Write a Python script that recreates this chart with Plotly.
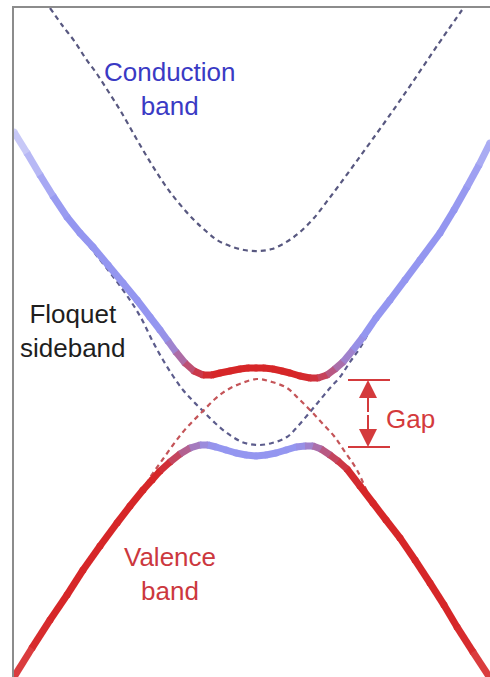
import plotly.graph_objects as go

# ---------------- data (k = horizontal, E = vertical screen position) ----------------
# Bare conduction band (dashed, top)
cond_k = [50, 62, 75, 86, 97, 108, 120, 136, 152, 170, 193, 207, 217, 230, 244, 258, 272, 288, 300, 314, 328, 340, 356, 372, 392, 412, 437, 462]
cond_E = [8, 25, 42, 59, 74, 91, 110, 138, 165, 192, 219, 232, 240, 246, 250, 251, 249, 241, 232, 218, 200, 184, 162, 140, 112, 83, 46, 10]

# Floquet sideband (conduction band shifted down by photon energy, dashed)
side_k = [14, 40, 67, 93, 123, 140, 153, 163, 173, 183, 193, 203, 215, 227, 242, 257, 272, 287, 298, 310, 320, 330, 340, 350, 360, 376, 390, 405, 420, 440, 467, 490]
side_E = [134, 177, 219, 251, 290, 316, 342, 360, 376, 390, 401, 411, 423, 433, 442, 445, 443, 437, 426, 412, 400, 388, 377, 362, 348, 320, 302, 282, 262, 235, 189, 145]

# Bare valence band (dashed)
val_k = [14, 50, 83, 117, 143, 153, 163, 173, 183, 193, 203, 215, 227, 242, 257, 272, 287, 298, 310, 322, 334, 345, 357, 373, 400, 430, 457, 490]
val_E = [677, 619, 569, 521, 488, 473, 459, 445, 432, 421, 411, 399, 390, 383, 379, 382, 388, 398, 410, 423, 436, 452, 470, 503, 538, 583, 627, 678]

# Upper hybridized Floquet branch (solid)
up_k = [14, 27, 40, 53, 67, 80, 93, 108, 123, 137, 150, 160, 168, 176, 185, 194, 203, 212, 220, 230, 240, 248, 256, 264, 273, 282, 290, 300, 310, 318, 327, 335, 343, 353, 363, 376, 390, 405, 420, 440, 454, 467, 479, 490]
up_E = [132, 153, 175, 196, 217, 233, 247, 265, 283, 300, 317, 330, 341, 352, 363, 371, 375, 375, 373, 371, 369, 368, 368, 368, 369, 371, 373, 376, 378, 378, 375, 369, 362, 350, 337, 318, 300, 280, 260, 233, 210, 187, 165, 143]
up_mix = [0, 0, 0, 0, 0, 0, 0, 0, 0, 0, 0, 0, 0.08, 0.25, 0.5, 0.75, 0.92, 1, 1, 1, 1, 1, 1, 1, 1, 1, 1, 1, 0.95, 0.85, 0.65, 0.45, 0.25, 0.1, 0, 0, 0, 0, 0, 0, 0, 0, 0, 0]
up_fade = [0.45, 0.6, 0.75, 0.9, 1, 1, 1, 1, 1, 1, 1, 1, 1, 1, 1, 1, 1, 1, 1, 1, 1, 1, 1, 1, 1, 1, 1, 1, 1, 1, 1, 1, 1, 1, 1, 1, 1, 1, 1, 1, 1, 0.95, 0.85, 0.75]

# Lower hybridized Floquet branch (solid)
lo_k = [14, 32, 50, 67, 83, 100, 117, 130, 143, 152, 160, 170, 180, 190, 200, 208, 216, 226, 236, 246, 256, 266, 276, 286, 296, 305, 313, 321, 330, 338, 347, 360, 373, 386, 400, 415, 430, 444, 457, 473, 490]
lo_E = [677, 648, 620, 595, 570, 546, 523, 506, 490, 480, 471, 462, 454, 448, 445, 445, 447, 450, 453, 455, 456, 455, 453, 450, 447, 446, 446, 449, 455, 461, 469, 486, 503, 520, 538, 560, 583, 605, 627, 652, 678]
lo_mix = [1, 1, 1, 1, 1, 1, 1, 1, 1, 1, 1, 0.85, 0.6, 0.35, 0.15, 0.05, 0, 0, 0, 0, 0, 0, 0, 0, 0, 0.1, 0.25, 0.45, 0.65, 0.8, 0.92, 1, 1, 1, 1, 1, 1, 1, 1, 1, 1]
lo_fade = [0.85, 0.95, 1, 1, 1, 1, 1, 1, 1, 1, 1, 1, 1, 1, 1, 1, 1, 1, 1, 1, 1, 1, 1, 1, 1, 1, 1, 1, 1, 1, 1, 1, 1, 1, 1, 1, 1, 1, 1, 0.95, 0.85]

labels = {
    "cond": "Conduction<br>band",
    "side": "Floquet<br>sideband",
    "val": "Valence<br>band",
    "gap": "Gap",
}

# ---------------- styling ----------------
BLUE = (148, 150, 240)
RED = (214, 38, 40)
SOLID_W = 7
FONT = "Arial, Liberation Sans, Helvetica, sans-serif"
FS = 26


def blend(m, f):
    c = [b + (r - b) * m for b, r in zip(BLUE, RED)]
    c = [255 - (255 - v) * f for v in c]
    return "rgb(%d,%d,%d)" % tuple(int(round(v)) for v in c)


fig = go.Figure()

# dashed bare bands
fig.add_trace(go.Scatter(x=cond_k, y=cond_E, mode="lines", line=dict(color="rgb(88,88,128)", width=2.2, dash="5px,4px", shape="spline"), hoverinfo="skip"))
fig.add_trace(go.Scatter(x=side_k, y=side_E, mode="lines", line=dict(color="rgb(92,92,140)", width=2.2, dash="5px,4px", shape="spline"), hoverinfo="skip"))
fig.add_trace(go.Scatter(x=val_k, y=val_E, mode="lines", line=dict(color="rgb(196,84,88)", width=2.2, dash="5px,4px", shape="spline"), hoverinfo="skip"))


def gradient_curve(ks, es, mix, fade):
    cols = [blend(m, f) for m, f in zip(mix, fade)]
    # round joints
    fig.add_trace(go.Scatter(x=ks, y=es, mode="markers", marker=dict(color=cols, size=SOLID_W, line=dict(width=0)), hoverinfo="skip"))
    for i in range(len(ks) - 1):
        c = blend((mix[i] + mix[i + 1]) / 2, (fade[i] + fade[i + 1]) / 2)
        fig.add_trace(go.Scatter(x=ks[i:i + 2], y=es[i:i + 2], mode="lines", line=dict(color=c, width=SOLID_W), hoverinfo="skip"))


gradient_curve(up_k, up_E, up_mix, up_fade)
gradient_curve(lo_k, lo_E, lo_mix, lo_fade)

# gap bracket derived from the branches
center = [i for i, k in enumerate(up_k) if 180 < k < 340]
gap_top = max(up_E[i] for i in center) + 2
center_lo = [i for i, k in enumerate(lo_k) if 180 < k < 340]
gap_bot = min(lo_E[i] for i in center_lo) + 2
gap_mid = (gap_top + gap_bot) / 2
GAP_RED = "rgb(212,58,60)"
bx0, bx1, bxc = 348, 390, 368
for yv in (gap_top, gap_bot):
    fig.add_shape(type="line", x0=bx0, x1=bx1, y0=yv, y1=yv, line=dict(color=GAP_RED, width=2))
for yv in (gap_top, gap_bot):
    fig.add_annotation(x=bxc, y=yv, ax=bxc, ay=gap_mid, xref="x", yref="y", axref="x", ayref="y",
                       text="", showarrow=True, arrowhead=2, arrowsize=1.8, arrowwidth=2, arrowcolor=GAP_RED)

# labels
fig.add_annotation(x=170, y=89, text=labels["cond"], showarrow=False, font=dict(family=FONT, size=FS, color="rgb(58,58,196)"))
fig.add_annotation(x=73, y=331, text=labels["side"], showarrow=False, font=dict(family=FONT, size=FS, color="rgb(30,30,30)"))
fig.add_annotation(x=170, y=574, text=labels["val"], showarrow=False, font=dict(family=FONT, size=FS, color="rgb(204,56,62)"))
fig.add_annotation(x=384, y=419, text=labels["gap"], showarrow=False, xanchor="left", font=dict(family=FONT, size=FS, color=GAP_RED))

fig.update_layout(
    width=490, height=677,
    margin=dict(l=14, r=0, t=8, b=0),
    paper_bgcolor="white", plot_bgcolor="white",
    showlegend=False, hovermode=False,
    xaxis=dict(range=[14, 490], showgrid=False, zeroline=False, showticklabels=False, ticks="",
               showline=True, side="top", linecolor="rgb(140,140,140)", linewidth=1.5),
    yaxis=dict(range=[677, 8], showgrid=False, zeroline=False, showticklabels=False, ticks="",
               showline=True, linecolor="rgb(140,140,140)", linewidth=1.5),
)

fig.write_html("out.html", config={"displayModeBar": False},
               post_script="document.body.style.margin='0';document.body.style.overflow='hidden';")
